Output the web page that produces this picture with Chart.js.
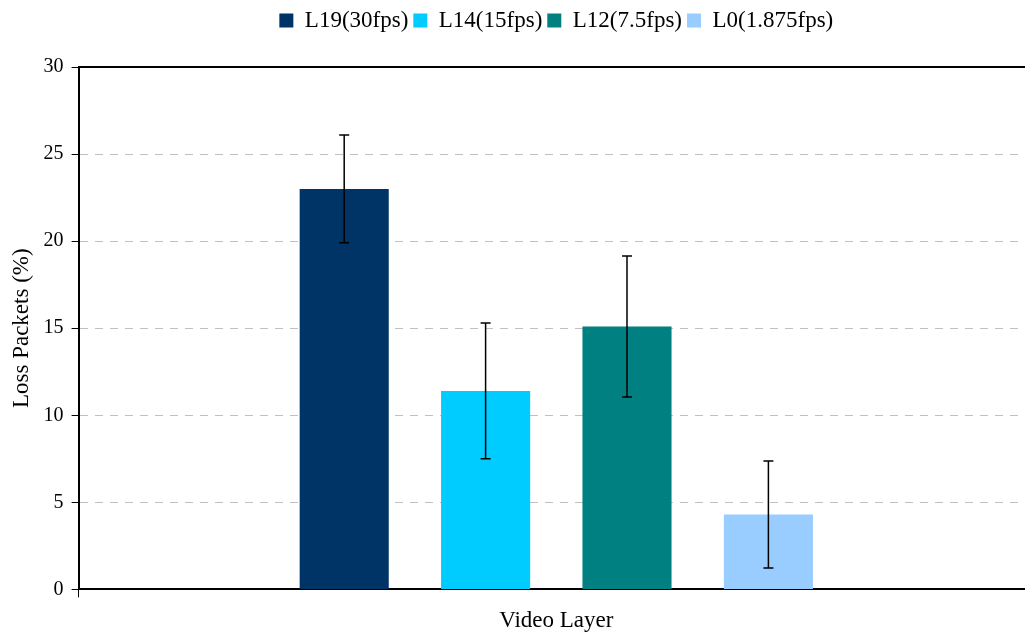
<!DOCTYPE html>
<html>
<head>
<meta charset="utf-8">
<script src="https://cdn.jsdelivr.net/npm/chart.js@4/dist/chart.umd.min.js"></script>
<style>
  html, body { margin: 0; padding: 0; background: #fff; overflow: hidden; }
  #wrap { width: 1036px; height: 635px; }
</style>
</head>
<body>
<div id="wrap"><canvas id="chart"></canvas></div>
<script>
const categories = [""];
const seriesNames = ["L19(30fps)", "L14(15fps)", "L12(7.5fps)", "L0(1.875fps)"];
const lossValues = [23.0, 11.4, 15.1, 4.3];
const lossErrors = [3.1, 3.9, 4.05, 3.07];
const colors = ["#003366", "#00ccff", "#008080", "#99ccff"];
const yTicks = [0, 5, 10, 15, 20, 25, 30];

const serif = "'Liberation Serif', 'Times New Roman', serif";

// extra room under the legend
const legendSpacing = {
    id: "legendSpacing",
    beforeInit(chart) {
        const fit = chart.legend.fit;
        chart.legend.fit = function () {
            fit.bind(chart.legend)();
            this.height += 25;
        };
    }
};

// error bars + top frame line
const errorBars = {
    id: "errorBars",
    afterDatasetsDraw(chart) {
        const ctx = chart.ctx;
        const y = chart.scales.y;
        ctx.save();
        ctx.strokeStyle = "#000";
        ctx.lineWidth = 1.5;
        chart.data.datasets.forEach((ds, i) => {
            const meta = chart.getDatasetMeta(i);
            meta.data.forEach((bar, j) => {
                const v = ds.data[j];
                const e = ds.errors[j];
                const top = y.getPixelForValue(v + e);
                const bottom = y.getPixelForValue(v - e);
                ctx.beginPath();
                ctx.moveTo(bar.x, top);
                ctx.lineTo(bar.x, bottom);
                ctx.moveTo(bar.x - 5, top);
                ctx.lineTo(bar.x + 5, top);
                ctx.moveTo(bar.x - 5, bottom);
                ctx.lineTo(bar.x + 5, bottom);
                ctx.stroke();
            });
        });
        const area = chart.chartArea;
        ctx.lineWidth = 2;
        ctx.beginPath();
        ctx.moveTo(area.left, area.top);
        ctx.lineTo(area.right, area.top);
        ctx.stroke();
        ctx.restore();
    }
};

new Chart(document.getElementById("chart"), {
    type: "bar",
    data: {
        labels: categories,
        datasets: seriesNames.map((name, i) => ({
            label: name,
            data: [lossValues[i]],
            errors: [lossErrors[i]],
            backgroundColor: colors[i],
            categoryPercentage: 0.592,
            barPercentage: 0.63
        }))
    },
    options: {
        responsive: true,
        maintainAspectRatio: false,
        animation: false,
        layout: { padding: { top: 4, right: 2, left: 8, bottom: 0 } },
        plugins: {
            legend: {
                position: "top",
                fullSize: false,
                labels: {
                    color: "#000",
                    font: { family: serif, size: 23 },
                    boxWidth: 14,
                    boxHeight: 14,
                    padding: 5
                }
            },
            tooltip: { enabled: false }
        },
        scales: {
            x: {
                grid: {
                    display: true,
                    drawOnChartArea: false,
                    tickLength: 8,
                    tickColor: "#000"
                },
                border: { color: "#000", width: 2 },
                ticks: { display: false },
                title: {
                    display: true,
                    text: "Video Layer",
                    color: "#000",
                    font: { family: serif, size: 23 },
                    padding: { top: 10, bottom: 0 }
                }
            },
            y: {
                min: 0,
                max: 30,
                afterBuildTicks: (axis) => { axis.ticks = yTicks.map(v => ({ value: v })); },
                grid: {
                    color: (c) => (c.tick && c.tick.value === 0 ? "rgba(0,0,0,0)" : "#c0c0c0"),
                    tickColor: "#000",
                    tickLength: 7,
                    lineWidth: 1
                },
                border: { color: "#000", width: 2, dash: [8, 7] },
                ticks: {
                    color: "#000",
                    font: { family: serif, size: 20 },
                    padding: 8
                },
                title: {
                    display: true,
                    text: "Loss Packets (%)",
                    color: "#000",
                    font: { family: serif, size: 23 },
                    padding: { top: 0, bottom: 0 }
                }
            }
        }
    },
    plugins: [legendSpacing, errorBars]
});
</script>
</body>
</html>
